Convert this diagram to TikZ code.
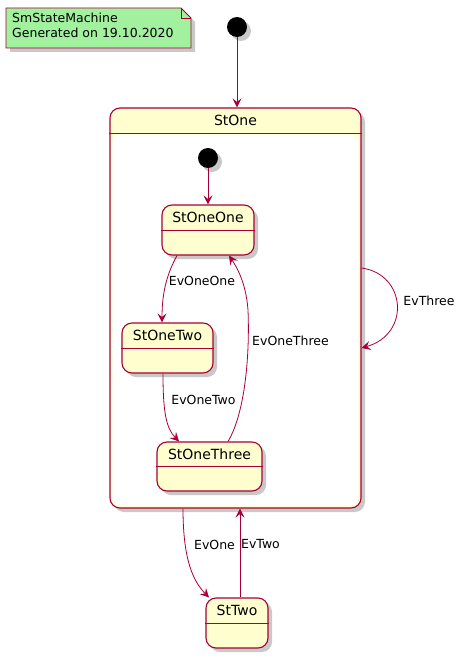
\documentclass[tikz,border=0pt]{standalone}
\usepackage{fontspec}
\setmainfont{DejaVu Sans}
\usepackage{tikz}
\usetikzlibrary{arrows.meta}
\usetikzlibrary{shadows}
\definecolor{PumlRed}{RGB}{168,0,54}
\definecolor{PumlYellow}{RGB}{254,254,206}
\definecolor{NoteGreen}{RGB}{161,241,158}

\begin{document}
\begin{tikzpicture}[
 x=1pt, y=-1pt,
 shade/.style = {drop shadow={shadow xshift=4pt, shadow yshift=-4pt, opacity=0.3, fill=black!70}},
 state/.style = {draw=PumlRed, line width=1.1pt, fill=PumlYellow, rectangle,
                 rounded corners=10pt, shade},
 initial/.style = {circle, fill=black, minimum size=20pt, inner sep=0pt, shade},
 trans/.style = {draw=PumlRed, line width=0.8pt, -{Stealth[length=9pt,width=9pt,inset=3.5pt]}},
 sep/.style = {draw=PumlRed, line width=1.1pt},
 lbl/.style = {font=\fontsize{12.5}{14.5}\selectfont, inner sep=0pt},
 title/.style = {font=\fontsize{14}{16}\selectfont, inner sep=0pt},
                        ]
    \useasboundingbox (0,0) rectangle (465,658);

    % note
    \draw [draw=PumlRed, fill=NoteGreen, line width=0.8pt, shade]
       (6,8) -- (181,8) -- (191,18) -- (191,48) -- (6,48) -- cycle;
    \draw [PumlRed, line width=0.8pt] (181,8) -- (181,18) -- (191,18);
    \node [lbl, anchor=north west, align=left] (noteText) at (12,13)
       {SmStateMachine\\Generated on 19.10.2020};

    % composite state
    \node [state, minimum width=251pt, minimum height=400pt] (stOne) at (235.5,308) {};
    \fill [white, rounded corners=8pt]
       ([xshift=3pt,yshift=-27pt]stOne.north west) rectangle ([xshift=-3pt,yshift=3pt]stOne.south east);
    \node [title] at ([yshift=-13pt]stOne.north) {StOne};
    \draw [sep] ([yshift=-26pt]stOne.north west) -- ([yshift=-26pt]stOne.north east);

    \node [initial] (init) at (237,27) {};
    \node [initial] (initOne) at (208,158) {};

    \node [state, minimum width=92pt, minimum height=50pt] (stOneOne) at (208,230) {};
    \node [title] at ([yshift=-13pt]stOneOne.north) {StOneOne};
    \draw [sep] ([yshift=-26pt]stOneOne.north west) -- ([yshift=-26pt]stOneOne.north east);

    \node [state, minimum width=91pt, minimum height=50pt] (stOneTwo) at (167.5,348) {};
    \node [title] at ([yshift=-13pt]stOneTwo.north) {StOneTwo};
    \draw [sep] ([yshift=-26pt]stOneTwo.north west) -- ([yshift=-26pt]stOneTwo.north east);

    \node [state, minimum width=105pt, minimum height=49pt] (stOneThree) at (209.5,466.5) {};
    \node [title] at ([yshift=-13pt]stOneThree.north) {StOneThree};
    \draw [sep] ([yshift=-25pt]stOneThree.north west) -- ([yshift=-25pt]stOneThree.north east);

    \node [state, minimum width=62pt, minimum height=50pt] (stTwo) at (237,623) {};
    \node [title] at ([yshift=-13pt]stTwo.north) {StTwo};
    \draw [sep] ([yshift=-26pt]stTwo.north west) -- ([yshift=-26pt]stTwo.north east);

    % transitions
    \draw [trans] (init) -- (init |- stOne.north);
    \draw [trans] (initOne) -- (stOneOne.north);
    \draw [trans] ([xshift=-31pt]stOneOne.south)
       .. controls (168,272) and (162,290) .. ([xshift=-5.5pt]stOneTwo.north);
    \draw [trans] ([xshift=-4.5pt]stOneTwo.south)
       .. controls (163,412) and (166,428) .. ([xshift=-30.5pt]stOneThree.north);
    \draw [trans] ([xshift=18.5pt]stOneThree.north)
       .. controls (244,415) and (250,360) .. (248,310)
       .. controls (246,282) and (236,266) .. ([xshift=21pt]stOneOne.south);
    \draw [trans] ([yshift=40pt]stOne.east)
       .. controls (406,274) and (411,334) .. ([yshift=-40pt]stOne.east);
    \draw [trans] ([xshift=-52.5pt]stOne.south)
       .. controls (183,562) and (194,582) .. ([xshift=-28pt]stTwo.north);
    \draw [trans] ([xshift=3pt]stTwo.north) -- ([xshift=3pt]stTwo.north |- stOne.south);

    % labels
    \node [lbl] (evOneOne) at (202,281) {EvOneOne};
    \node [lbl] (evOneTwo) at (203.5,399.5) {EvOneTwo};
    \node [lbl] (evOneThree) at (290.5,340.5) {EvOneThree};
    \node [lbl] (evThree) at (429,300.5) {EvThree};
    \node [lbl] (evOne) at (214.5,544.5) {EvOne};
    \node [lbl] (evTwo) at (260.5,544.5) {EvTwo};

\end{tikzpicture}
\end{document}
